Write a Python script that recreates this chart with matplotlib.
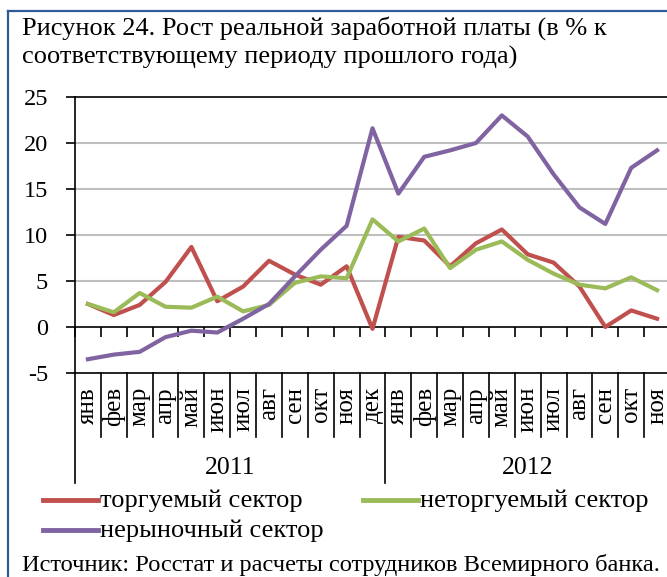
import numpy as np
import matplotlib
matplotlib.use("Agg")
import matplotlib.pyplot as plt
from matplotlib.lines import Line2D

plt.rcParams['font.family'] = ['Liberation Serif', 'DejaVu Serif']

# ---- data ----
months = ["янв", "фев", "мар", "апр", "май", "июн", "июл", "авг", "сен", "окт", "ноя", "дек",
          "янв", "фев", "мар", "апр", "май", "июн", "июл", "авг", "сен", "окт", "ноя"]
years = ["2011", "2012"]
year_counts = [12, 11]

traded = [2.5, 1.3, 2.4, 4.9, 8.7, 2.8, 4.4, 7.2, 5.7, 4.6, 6.6, -0.2,
          9.8, 9.4, 6.6, 9.1, 10.6, 7.9, 7.0, 4.4, 0.0, 1.8, 0.9]
nontraded = [2.5, 1.6, 3.7, 2.2, 2.1, 3.3, 1.7, 2.4, 4.8, 5.5, 5.3, 11.7,
             9.3, 10.7, 6.4, 8.4, 9.3, 7.3, 5.8, 4.6, 4.2, 5.4, 4.0]
nonmarket = [-3.5, -3.0, -2.7, -1.1, -0.4, -0.6, 0.9, 2.5, 5.5, 8.4, 11.0, 21.6,
             14.5, 18.5, 19.2, 20.0, 23.0, 20.7, 16.6, 13.0, 11.2, 17.3, 19.2]

series_names = ["торгуемый сектор", "неторгуемый сектор", "нерыночный сектор"]
series_colors = ["#C0504D", "#9BBB59", "#8064A2"]

title_lines = ["Рисунок 24. Рост реальной заработной платы (в % к",
               "соответствующему периоду прошлого года)"]
source = "Источник: Росстат и расчеты сотрудников Всемирного банка."

yticks = [-5, 0, 5, 10, 15, 20, 25]

# ---- figure ----
W, H = 667, 577
DPI = 100
fig = plt.figure(figsize=(W / DPI, H / DPI), dpi=DPI)

def fx(px):
    return px / W

def fy(py):
    return 1 - py / H

ax_left, ax_right, ax_top, ax_bot = 75, 670, 97, 373
ax = fig.add_axes([fx(ax_left), fy(ax_bot), fx(ax_right - ax_left), (ax_bot - ax_top) / H])

x = np.arange(len(months))
for vals, name, col in zip([traded, nontraded, nonmarket], series_names, series_colors):
    ax.plot(x, vals, color=col, lw=3.0, label=name, solid_joinstyle='round', zorder=3)

ax.set_xlim(-0.5, len(months) - 0.5)
ax.set_ylim(yticks[0], yticks[-1])
ax.set_yticks(yticks)
ax.set_yticklabels([str(v) for v in yticks], fontsize=17.5)
ax.tick_params(axis='y', direction='out', length=6.5, width=1.2, pad=13, colors='black')
for v in yticks[1:-1]:
    if v != 0:
        ax.axhline(v, color='#BFBFBF', lw=1.5, zorder=1)

# category axis at zero with downward ticks
ax.spines['bottom'].set_position(('data', 0))
ax.spines['bottom'].set_linewidth(1.2)
ax.set_xticks(np.arange(-0.5, len(months), 1))
ax.set_xticklabels([])
ax.tick_params(axis='x', direction='out', length=7, width=1.2)
for s in ['left', 'top', 'right']:
    ax.spines[s].set_linewidth(1.2)
ax.axhline(yticks[0], color='black', lw=1.2, clip_on=False, zorder=2)

# multi-level category labels below the plot area
tr = ax.get_xaxis_transform()
hpx = ax_bot - ax_top
def axy(py):
    return (ax_bot - py) / hpx

month_bottom = axy(437)
year_bottom = axy(483)
boundaries = np.arange(-0.5, len(months), 1)
year_edges = np.concatenate([[-0.5], np.cumsum(year_counts) - 0.5])
for b in boundaries:
    bottom = year_bottom if np.any(np.isclose(b, year_edges)) else month_bottom
    ax.add_line(Line2D([b, b], [0, bottom], transform=tr, color='black', lw=1.2, clip_on=False))
for i, m in enumerate(months):
    ax.text(i, axy(387), m, transform=tr, rotation=90, ha='center', va='top', fontsize=18)
for k, yr in enumerate(years):
    xc = (year_edges[k] + year_edges[k + 1]) / 2
    ax.text(xc, axy(468), yr, transform=tr, ha='center', va='center', fontsize=18.5)

# title and source
fig.text(fx(22), fy(35), title_lines[0], ha='left', va='baseline', fontsize=19)
fig.text(fx(22), fy(63.5), title_lines[1], ha='left', va='baseline', fontsize=19)
fig.text(fx(22), fy(571), source, ha='left', va='baseline', fontsize=17.6)

# legend (manual layout like the reference)
leg_pos = [(43, 500), (363, 500), (43, 530)]
for (px, py), name, col in zip(leg_pos, series_names, series_colors):
    fig.add_artist(Line2D([fx(px), fx(px + 55)], [fy(py), fy(py)], color=col, lw=3.5,
                          transform=fig.transFigure))
    fig.text(fx(px + 57), fy(py + 7), name, ha='left', va='baseline', fontsize=19)

# blue frame
frame_col = '#2E5A9A'
fig.add_artist(Line2D([fx(8), fx(8)], [fy(11), 0], color=frame_col, lw=1.6, transform=fig.transFigure))
fig.add_artist(Line2D([fx(8), 1], [fy(11), fy(11)], color=frame_col, lw=1.6, transform=fig.transFigure))

fig.savefig("out.png", dpi=DPI)
